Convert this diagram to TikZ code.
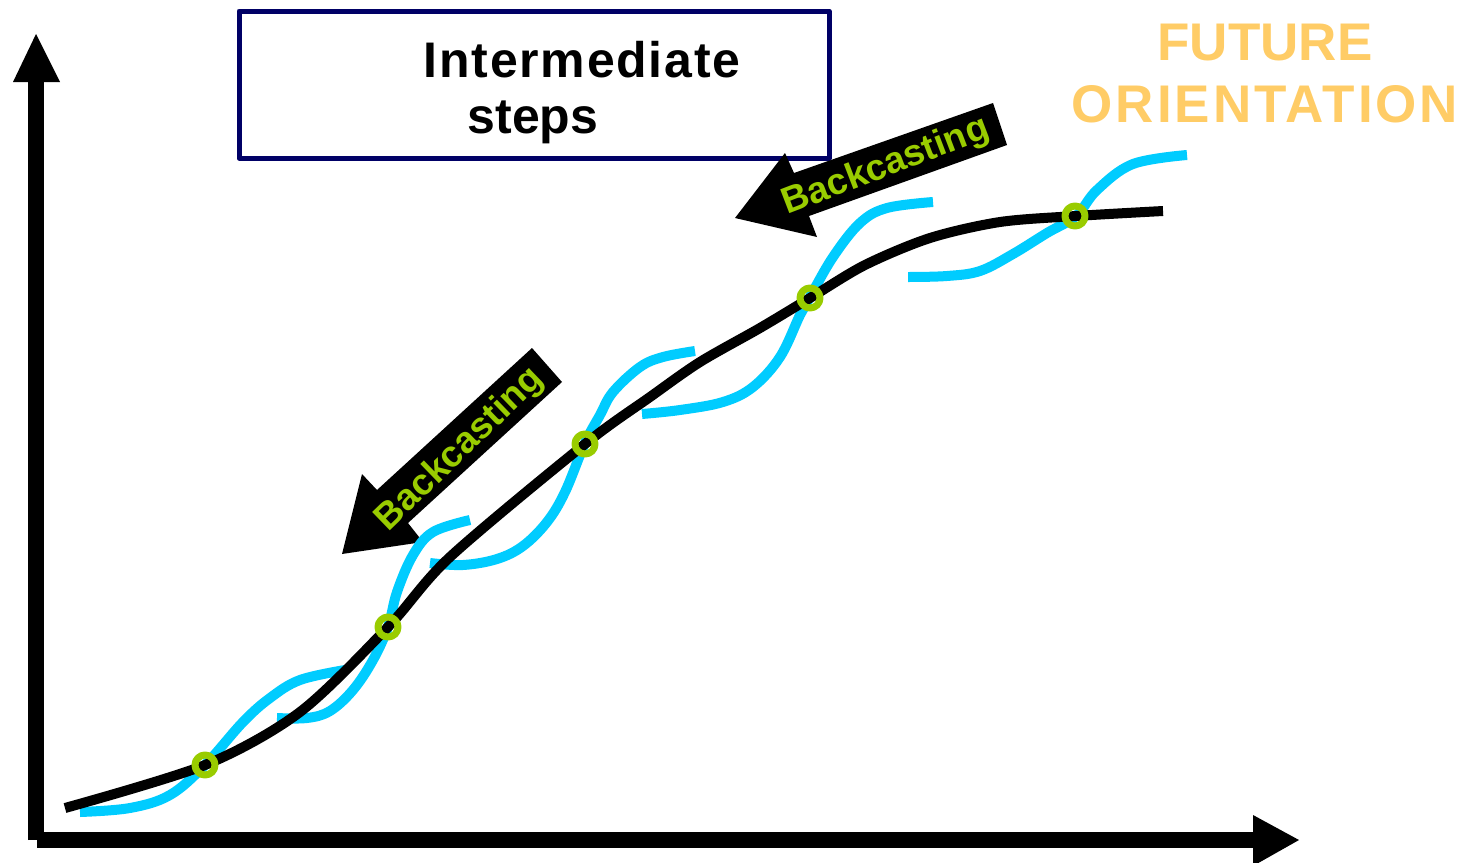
\documentclass[tikz,border=0pt]{standalone}
\usepackage{fontspec}
\setmainfont{Liberation Sans}
\definecolor{cyanc}{HTML}{00CCFF}
\definecolor{greenc}{HTML}{99CC00}
\definecolor{navyc}{HTML}{000066}
\definecolor{orangec}{HTML}{FFCC66}
\begin{document}
\begin{tikzpicture}[x=1pt,y=-1pt,line join=round]
\tikzset{
  axisline/.style={line width=16pt},
  bluecurve/.style={draw=cyanc,line width=10pt},
  blackcurve/.style={draw=black,line width=10pt},
  ring/.style={circle,draw=greenc,line width=7pt,minimum size=20pt,inner sep=0pt},
  blockarrow/.style={fill=black},
  arrowtext/.style={text=greenc,font=\bfseries\fontsize{37}{40}\selectfont},
  boxtext/.style={anchor=base,font=\bfseries\fontsize{50}{60}\selectfont},
  futuretext/.style={anchor=base,text=orangec,font=\bfseries\fontsize{53}{60}\selectfont},
  stepsbox/.style={draw=navyc,line width=5pt,minimum width=590pt,minimum height=147pt,inner sep=0pt}
}
\useasboundingbox (0,0) rectangle (1467,862);
% axes
\coordinate (origin) at (36,840);
\coordinate (ytop) at (36,80);
\coordinate (xend) at (1253,840);
\draw[axisline] (origin) -- (ytop);
\draw[axisline] (37,840) -- (xend);
\fill (13,82) -- (60,82) -- (36,34) -- cycle;
\fill (1253,815) -- (1253,866) -- (1299,840) -- cycle;
% box
\node[stepsbox] (box) at (534,84.5) {};
\node[boxtext] (inter) at (582,77) {\addfontfeature{LetterSpace=3.5}Intermediate};
\node[boxtext] (steps) at (533,133) {steps};
% future
\node[futuretext] (future) at (1265,60) {FUTURE};
\node[futuretext] (orient) at (1265,122) {\addfontfeature{LetterSpace=5.5}ORIENTATION};
% block arrows
\fill[blockarrow] (735,218) -- (785,153) -- (794,173) -- (993,103) -- (1007,145) -- (809,216) -- (817,237) -- cycle;
\fill[blockarrow] (342,554) -- (362,474) -- (377,490) -- (532,348) -- (562,382) -- (408,523) -- (423,542) -- cycle;
\node[arrowtext,rotate=21] (bc1) at (886,167) {Backcasting};
\node[arrowtext,rotate=44] (bc2) at (460,450) {Backcasting};
% blue curves
\draw[bluecurve] plot[smooth,tension=0.6] coordinates {(80,812) (130,808) (170,795) (205,765) (243,722) (270,698) (300,680) (345,670)};
\draw[bluecurve] plot[smooth,tension=0.6] coordinates {(277,718) (307,718) (330,711) (353,690) (373,660) (388,627) (397,592) (413,555) (433,532) (470,520)};
\draw[bluecurve] plot[smooth,tension=0.6] coordinates {(430,563) (463,565) (497,559) (523,546) (547,522) (565,492) (585,443) (600,415) (613,392) (640,367) (663,357) (695,351)};
\draw[bluecurve] plot[smooth,tension=0.6] coordinates {(642,414) (680,410) (723,402) (753,387) (780,357) (800,315) (810,297) (833,257) (860,223) (887,208) (933,202)};
\draw[bluecurve] plot[smooth,tension=0.6] coordinates {(908,277) (947,276) (980,271) (1013,254) (1047,233) (1076,216) (1097,190) (1133,164) (1187,155)};
% black curve
\draw[blackcurve] plot[smooth,tension=0.5] coordinates {(65,808) (205,765) (300,712) (388,627) (450,557) (585,444) (650,397) (700,362) (760,328) (810,298) (865,265) (930,238) (1000,222) (1076,216) (1163,211)};
% rings
\node[ring] (r1) at (205,765) {};
\node[ring] (r2) at (388,627) {};
\node[ring] (r3) at (585,444) {};
\node[ring] (r4) at (810,298) {};
\node[ring] (r5) at (1075,216) {};
\end{tikzpicture}
\end{document}
